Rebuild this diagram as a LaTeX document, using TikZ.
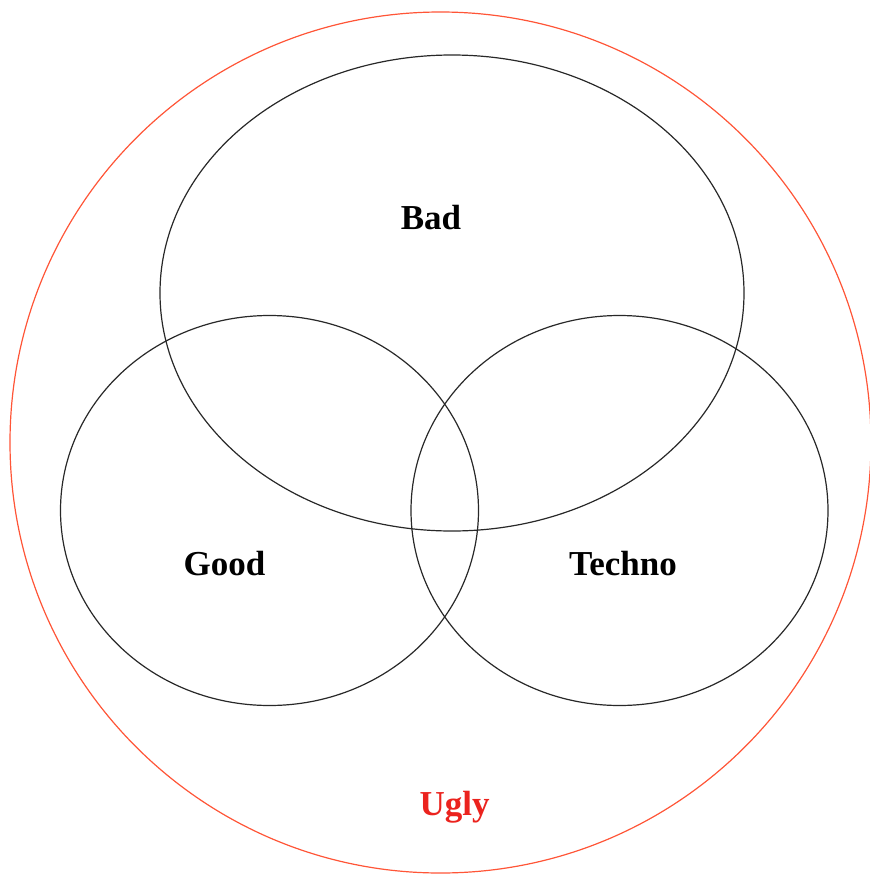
\documentclass[tikz,border=0pt]{standalone}
\usepackage{fontspec}
\setmainfont{Liberation Serif}
\usetikzlibrary{shapes.geometric}
\definecolor{ringred}{RGB}{255,85,55}
\definecolor{uglyred}{RGB}{235,35,30}
\definecolor{setline}{RGB}{40,40,40}
\tikzset{
  setshape/.style={ellipse, draw=setline, line width=1.2pt, inner sep=0pt},
  setlabel/.style={anchor=base, font=\fontsize{35}{40}\selectfont\bfseries, text=black, inner sep=0pt},
}
\begin{document}
\begin{tikzpicture}[x=1pt,y=-1pt]
\useasboundingbox (0,0) rectangle (870,876);
\node[circle, draw=ringred, line width=1.2pt, inner sep=0pt, minimum size=861pt] (ugly) at (440.5,442.5) {};
\node[setshape, minimum width=584pt, minimum height=476pt] (bad) at (452,293) {};
\node[setshape, minimum width=418pt, minimum height=390pt] (good) at (269.5,510.5) {};
\node[setshape, minimum width=417pt, minimum height=390pt] (techno) at (619.5,510.5) {};
\node[setlabel] (badlabel) at (431,229) {Bad};
\node[setlabel] (goodlabel) at (224.5,575) {Good};
\node[setlabel] (technolabel) at (623,575) {Techno};
\node[setlabel, text=uglyred] (uglylabel) at (454.5,815) {Ugly};
\end{tikzpicture}
\end{document}
